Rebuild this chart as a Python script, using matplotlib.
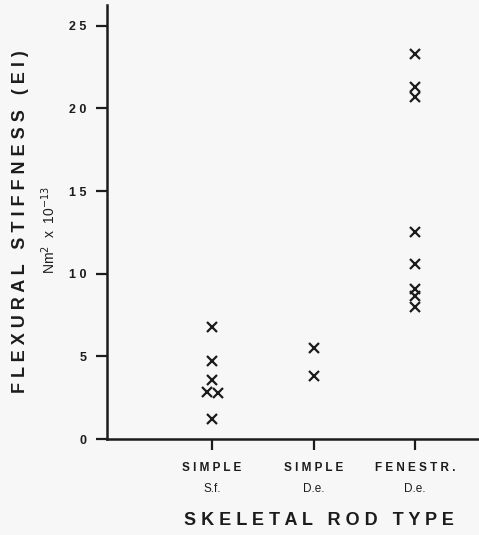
import numpy as np
import matplotlib
matplotlib.use("Agg")
import matplotlib.pyplot as plt

categories = ["SIMPLE\nS.f.", "SIMPLE\nD.e.", "FENESTR.\nD.e."]
cat_pos = [1, 2, 3]

# flexural stiffness (Nm^2 x 10^-13)
sf_simple = [6.75, 4.7, 3.55, 2.85, 2.8, 1.2]
sf_offset = [0.0, 0.0, 0.0, -0.05, 0.06, 0.0]
de_simple = [5.5, 3.8]
de_fenestr = [23.3, 21.3, 20.7, 12.55, 10.6, 9.1, 8.65, 8.0]

yticks = [0, 5, 10, 15, 20, 25]

ink = "#1c1c1c"
bg = "#f7f7f7"


def spaced(s, sep="\u2009", gap="   "):
    return gap.join(sep.join(w) for w in s.split())


plt.rcParams["font.family"] = ["Liberation Sans", "DejaVu Sans"]

fig = plt.figure(figsize=(4.79, 5.35), dpi=100, facecolor=bg)
ax = fig.add_axes([0.2234, 0.1794, 0.7766, 0.811], facecolor=bg)

mk = dict(marker="x", linestyle="none", color=ink, markersize=7, markeredgewidth=1.6)
ax.plot(np.array(sf_offset) + cat_pos[0], sf_simple, **mk)
ax.plot([cat_pos[1]] * len(de_simple), de_simple, **mk)
ax.plot([cat_pos[2]] * len(de_fenestr), de_fenestr, **mk)

ax.set_xlim(-0.035, 3.63)
ax.set_ylim(0, 26.25)

for s in ["top", "right"]:
    ax.spines[s].set_visible(False)
for s in ["left", "bottom"]:
    ax.spines[s].set_linewidth(1.8)
    ax.spines[s].set_color(ink)

ax.set_yticks(yticks)
ax.set_yticklabels([spaced(str(t), " ") for t in yticks],
                   fontsize=9, fontweight="bold", color=ink)
ax.tick_params(axis="y", length=8, width=1.6, color=ink, pad=7)

ax.set_xticks(cat_pos)
ax.set_xticklabels([])
ax.tick_params(axis="x", length=8, width=1.6, color=ink)
for x, lab in zip(cat_pos, categories):
    top, bot = lab.split("\n")
    ax.text(x, -0.066, spaced(top, " "), transform=ax.get_xaxis_transform(),
            ha="center", va="center", fontsize=8.5, fontweight="bold", color=ink)
    ax.text(x, -0.116, bot, transform=ax.get_xaxis_transform(),
            ha="center", va="center", fontsize=8.5, color=ink)

fig.text(0.666, 0.028, spaced("SKELETAL ROD TYPE", " "),
         ha="center", va="center", fontsize=13, fontweight="bold", color=ink)

fig.text(0.042, 0.585, spaced("FLEXURAL STIFFNESS (EI)", " "),
         ha="center", va="center", rotation=90, fontsize=13, fontweight="bold", color=ink)
fig.text(0.102, 0.570, r"Nm$^{2}$  x  10$^{-13}$", ha="center", va="center",
         rotation=90, fontsize=10, color=ink)

fig.savefig("out.png", dpi=100, facecolor=bg)
